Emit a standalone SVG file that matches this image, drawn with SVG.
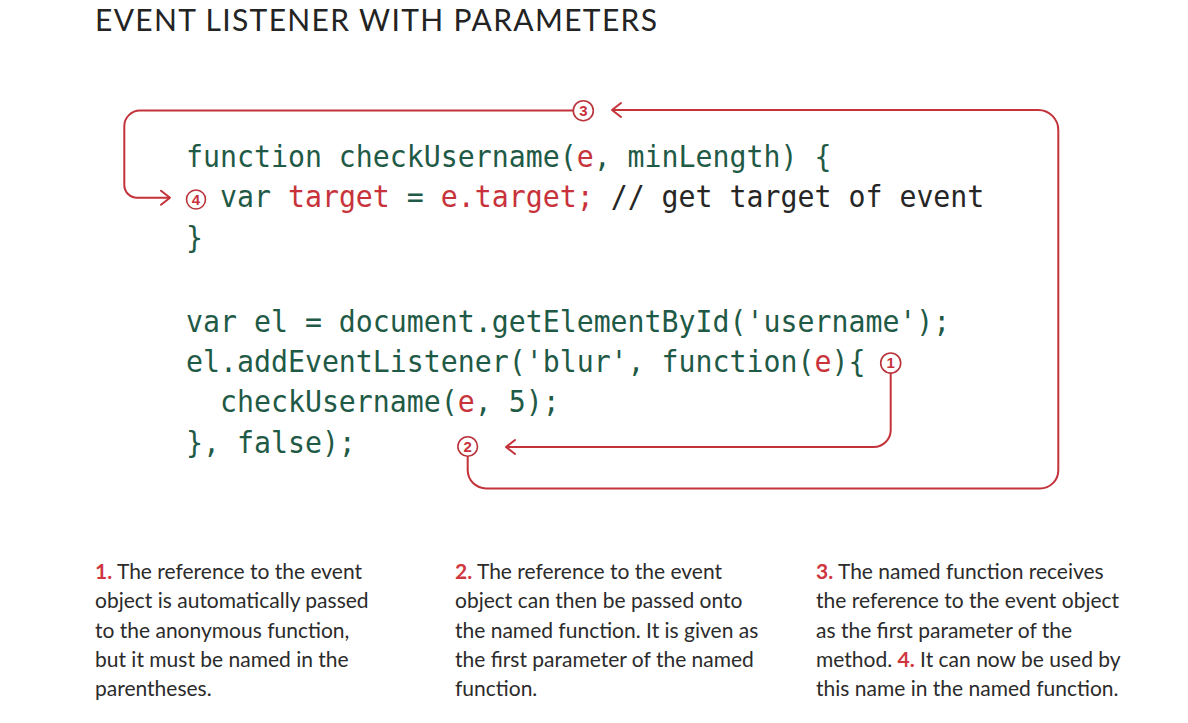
<svg xmlns="http://www.w3.org/2000/svg" width="1188" height="723" viewBox="0 0 1188 723">
  <style>
    .title { font-family: Lato, "Liberation Sans", sans-serif; font-size: 30px; fill: #232323; }
    .code { font-family: "DejaVu Sans Mono", "Liberation Mono", monospace; font-size: 30px; fill: #1f5a46; }
    .r { fill: #c8323b; }
    .k { fill: #262626; }
    .num { font-family: "Liberation Sans", Arial, sans-serif; font-size: 15px; font-weight: bold; fill: #c8323b; text-anchor: middle; }
    .ring { fill: #ffffff; stroke: #b8333a; stroke-width: 1.6; }
    .link { fill: none; stroke: #c4323a; stroke-width: 2; stroke-linejoin: round; }
    .note { font-family: Lato, "Open Sans", sans-serif; font-size: 21px; fill: #2b2b2b; }
    .note .n { fill: #d0363e; font-weight: bold; }
  </style>
  <defs>
    <marker id="chev" markerUnits="userSpaceOnUse" markerWidth="24" markerHeight="24" viewBox="-12 -12 24 24" refX="0" refY="0" orient="auto">
      <path d="M-9,-7 L0,0 L-9,7" fill="none" stroke="#c4323a" stroke-width="2" stroke-linecap="round" stroke-linejoin="round"/>
    </marker>
  </defs>
  <rect width="1188" height="723" fill="#ffffff"/>

  <text class="title" x="95" y="31" textLength="562" lengthAdjust="spacing">EVENT LISTENER WITH PARAMETERS</text>

  <!-- connectors -->
  <g id="connectors">
    <!-- 1 to 2 -->
    <path class="link" d="M890.7,373 V430 A17,17 0 0 1 873.7,447 H506" marker-end="url(#chev)"/>
    <!-- 2 to 3 -->
    <path class="link" d="M467.7,456 V470 A18.5,18.5 0 0 0 486.2,488.5 H1040 A18.3,18.3 0 0 0 1058.3,470.2 V130 A20,20 0 0 0 1038.3,110 H612" marker-end="url(#chev)"/>
    <!-- 3 to 4 -->
    <path class="link" d="M573,110.5 H140 A15.7,15.7 0 0 0 124.3,126.2 V185 A12.7,12.7 0 0 0 137,197.7 H170" marker-end="url(#chev)"/>
  </g>

  <!-- source listing -->
  <g id="code" transform="translate(186,0) scale(0.941,1)">
    <text class="code" x="0" y="167">function checkUsername(<tspan class="r">e</tspan>, minLength) {</text>
    <text class="code" x="36.12" y="207" xml:space="preserve">var <tspan class="r">target</tspan> = <tspan class="r">e.target;</tspan><tspan class="k"> // get target of event</tspan></text>
    <text class="code" x="0" y="248">}</text>
    <text class="code" x="0" y="332">var el = document.getElementById('username');</text>
    <text class="code" x="0" y="372">el.addEventListener('blur', function(<tspan class="r">e</tspan>){</text>
    <text class="code" x="36.12" y="412">checkUsername(<tspan class="r">e</tspan>, 5);</text>
    <text class="code" x="0" y="453">}, false);</text>
  </g>

  <!-- step markers -->
  <g id="step1">
    <circle class="ring" cx="890.7" cy="363" r="10"/>
    <text class="num" x="890.7" y="368.3">1</text>
  </g>
  <g id="step2">
    <circle class="ring" cx="467.7" cy="446.5" r="9.8"/>
    <text class="num" x="467.7" y="451.8">2</text>
  </g>
  <g id="step3">
    <circle class="ring" cx="583.3" cy="110.7" r="10"/>
    <text class="num" x="583.3" y="116">3</text>
  </g>
  <g id="step4">
    <circle class="ring" cx="196" cy="199.5" r="9.5"/>
    <text class="num" x="196" y="204.8">4</text>
  </g>

  <!-- explanatory notes -->
  <g id="note1">
    <text class="note" x="95" y="579"><tspan class="n">1.</tspan> The reference to the event</text>
    <text class="note" x="95" y="608">object is automatically passed</text>
    <text class="note" x="95" y="637.5">to the anonymous function,</text>
    <text class="note" x="95" y="666.5">but it must be named in the</text>
    <text class="note" x="95" y="696">parentheses.</text>
  </g>
  <g id="note2">
    <text class="note" x="455" y="579"><tspan class="n">2.</tspan> The reference to the event</text>
    <text class="note" x="455" y="608">object can then be passed onto</text>
    <text class="note" x="455" y="637.5">the named function. It is given as</text>
    <text class="note" x="455" y="666.5">the first parameter of the named</text>
    <text class="note" x="455" y="696">function.</text>
  </g>
  <g id="note3">
    <text class="note" x="816" y="579"><tspan class="n">3.</tspan> The named function receives</text>
    <text class="note" x="816" y="608">the reference to the event object</text>
    <text class="note" x="816" y="637.5">as the first parameter of the</text>
    <text class="note" x="816" y="666.5">method. <tspan class="n">4.</tspan> It can now be used by</text>
    <text class="note" x="816" y="696">this name in the named function.</text>
  </g>
</svg>
